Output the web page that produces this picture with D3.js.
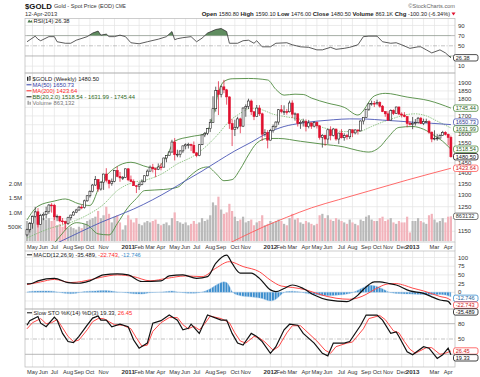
<!DOCTYPE html>
<html>
<head>
<meta charset="utf-8">
<script src="https://cdn.jsdelivr.net/npm/d3@7"></script>
<style>
  body { margin: 0; background: #fff; }
  svg { display: block; font-family: "Liberation Sans", Arial, sans-serif; }
</style>
</head>
<body>
<div id="chart"></div>
<script>
// weekly bars, 23-Apr-2010 .. 12-Apr-2013
const opens = [1136,1156,1180,1209,1228,1177,1213,1218,1229,1257,
  1256,1208,1210,1191,1188,1181,1204,1215,1227,1236,
  1248,1246,1275,1297,1317,1345,1370,1327,1358,1396,
  1367,1352,1362,1413,1385,1378,1380,1421,1369,1361,
  1342,1340,1348,1360,1388,1410,1429,1421,1419,1430,
  1429,1474,1486,1504,1556,1491,1493,1510,1536,1542,
  1543,1539,1500,1486,1542,1594,1602,1628,1663,1742,
  1852,1828,1876,1857,1813,1656,1624,1636,1683,1642,
  1746,1755,1788,1724,1696,1746,1712,1598,1606,1566,
  1617,1639,1665,1736,1725,1725,1724,1776,1710,1712,
  1657,1663,1669,1640,1660,1642,1663,1644,1581,1592,
  1572,1622,1591,1626,1572,1604,1579,1590,1584,1622,
  1605,1621,1616,1671,1692,1739,1771,1774,1772,1779,
  1757,1725,1712,1676,1731,1714,1752,1711,1705,1696,
  1657,1656,1657,1662,1687,1657,1667,1667,1609,1572,
  1576,1577,1592,1607,1597,1580.8];
const highs = [1160,1186,1212,1249,1232,1220,1226,1250,1261,1265,
  1262,1217,1212,1203,1192,1208,1216,1232,1241,1253,
  1258,1280,1300,1321,1350,1387,1372,1362,1398,1424,
  1370,1375,1414,1432,1406,1387,1422,1424,1389,1371,
  1344,1358,1371,1390,1418,1437,1445,1426,1447,1448,
  1476,1487,1510,1568,1577,1516,1513,1537,1549,1552,
  1547,1559,1504,1545,1595,1610,1632,1682,1817,1877,
  1912,1885,1921,1863,1816,1681,1678,1695,1690,1750,
  1768,1802,1797,1728,1764,1763,1719,1625,1620,1627,
  1651,1669,1740,1764,1762,1741,1790,1792,1720,1714,
  1675,1684,1680,1677,1662,1669,1668,1648,1598,1595,
  1629,1641,1632,1628,1605,1625,1603,1599,1625,1623,
  1625,1623,1675,1692,1740,1777,1790,1788,1796,1786,
  1764,1728,1727,1738,1738,1754,1755,1721,1722,1698,
  1669,1694,1682,1694,1694,1684,1684,1675,1612,1619,
  1598,1597,1616,1614,1601,1590.1];
const lows = [1130,1145,1160,1205,1165,1176,1194,1201,1220,1225,
  1195,1190,1185,1177,1157,1175,1193,1213,1223,1233,
  1239,1242,1271,1289,1312,1341,1315,1320,1323,1357,
  1330,1342,1358,1381,1360,1368,1377,1363,1359,1343,
  1309,1323,1344,1358,1385,1408,1404,1381,1415,1414,
  1429,1453,1486,1502,1462,1478,1477,1500,1518,1522,
  1509,1497,1478,1483,1540,1582,1593,1610,1660,1725,
  1705,1810,1836,1766,1627,1535,1588,1625,1603,1637,
  1695,1740,1705,1676,1694,1700,1562,1585,1523,1564,
  1606,1628,1650,1715,1705,1707,1720,1688,1673,1640,
  1627,1640,1613,1630,1627,1635,1629,1569,1527,1536,
  1546,1565,1586,1563,1546,1575,1563,1569,1572,1582,
  1597,1596,1613,1652,1689,1729,1760,1752,1763,1748,
  1722,1695,1673,1675,1705,1711,1705,1691,1692,1636,
  1646,1625,1645,1655,1654,1648,1660,1600,1555,1565,
  1563,1575,1590,1591,1539,1476];
const closes = [1156,1180,1209,1228,1177,1213,1218,1229,1257,1256,
  1208,1210,1191,1188,1181,1204,1215,1227,1236,1248,
  1246,1275,1297,1317,1345,1370,1327,1358,1396,1367,
  1352,1362,1413,1385,1378,1380,1421,1369,1361,1342,
  1340,1348,1360,1388,1410,1429,1421,1419,1430,1429,
  1474,1486,1504,1556,1491,1493,1510,1536,1542,1543,
  1539,1500,1486,1542,1594,1602,1628,1663,1742,1852,
  1828,1876,1857,1813,1656,1624,1636,1683,1642,1746,
  1755,1788,1724,1696,1746,1712,1598,1606,1566,1617,
  1639,1665,1736,1725,1725,1724,1776,1710,1712,1657,
  1663,1669,1640,1660,1642,1663,1644,1581,1592,1572,
  1622,1591,1626,1572,1604,1579,1590,1584,1622,1605,
  1621,1616,1671,1692,1739,1771,1774,1772,1779,1757,
  1725,1712,1676,1731,1714,1752,1711,1705,1696,1657,
  1656,1657,1662,1687,1657,1667,1667,1609,1572,1576,
  1577,1592,1607,1597,1580.8,1480.5];
// volume in thousands
const volumes = [700,650,900,1050,1150,850,800,750,800,700,
  900,550,600,500,550,450,500,450,400,500,
  450,600,700,750,800,850,1050,800,900,1200,
  950,650,850,900,650,400,550,900,750,650,
  800,600,550,650,700,650,700,750,600,550,
  600,650,550,800,1000,700,650,600,650,550,
  600,700,600,650,800,700,750,900,1350,1250,
  1550,1100,950,1000,1300,1050,850,700,750,850,
  650,700,750,550,650,700,900,550,600,700,
  650,700,750,700,600,550,800,950,750,800,
  650,600,700,650,600,550,600,900,950,800,
  900,750,700,800,750,700,650,600,750,650,
  600,550,750,700,850,900,750,700,700,800,
  850,700,750,800,650,600,700,650,650,850,
  300,700,700,800,700,650,600,900,950,750,
  650,700,800,650,850,863.132];

// overlays and indicators: [week index, value]
const ma50 = [[8,1090],[12,1110],[20,1150],[27,1185],[33,1212],[39,1240],[46,1280],[52,1320],[58,1365],
  [64,1410],[70,1460],[76,1510],[82,1555],[88,1605],[94,1640],[100,1658],[106,1670],[112,1678],
  [118,1683],[124,1682],[130,1676],[136,1670],[142,1663],[148,1658],[155,1650.73]];
const ma200 = [[70,1090],[74,1105],[78,1125],[86,1165],[95,1206],[104,1245],[114,1280],[125,1318],
  [139,1368],[155,1423.64]];
const bbUpper = [[0,1195],[4,1252],[10,1274],[14,1283],[19,1262],[23,1255],[27,1354],[32,1424],[38,1453],
  [44,1430],[47,1424],[51,1480],[54,1561],[60,1585],[65,1600],[68,1700],[70,1840],[72,1910],[75,1928],
  [81,1930],[88,1920],[91,1860],[94,1824],[98,1830],[101,1828],[104,1806],[110,1775],[116,1750],
  [121,1705],[127,1819],[131,1835],[139,1812],[147,1790],[155,1745.44]];
const bbMiddle = [[0,1124],[8,1160],[16,1185],[22,1215],[28,1260],[33,1320],[38,1354],[44,1370],[49,1395],
  [55,1445],[61,1485],[66,1540],[70,1600],[74,1670],[78,1715],[82,1745],[86,1735],[90,1710],[94,1697],
  [100,1680],[107,1640],[112,1620],[116,1612],[121,1612],[126,1640],[130,1665],[134,1686],[138,1705],
  [142,1712],[146,1700],[150,1670],[155,1631.99]];
const bbLower = [[0,1060],[8,1085],[12,1130],[15,1166],[18,1184],[22,1175],[26,1140],[30,1136],[33,1180],
  [37,1248],[40,1285],[43,1320],[50,1325],[55,1335],[59,1380],[63,1420],[66,1430],[69,1400],[72,1365],
  [75,1370],[78,1420],[81,1490],[84,1550],[88,1575],[92,1575],[100,1560],[108,1545],[116,1530],
  [121,1512],[125,1504],[129,1530],[132,1580],[136,1635],[141,1640],[145,1625],[149,1590],[152,1560],
  [155,1518.54]];
const rsi = [[0,58],[3,69],[4,63],[5,60],[8,68],[10,68],[11,58],[14,55],[16,55],[18,61],[22,68],[24,75],
  [26,79],[27,71],[29,73],[30,68],[32,68],[34,71],[36,68],[38,56],[41,54],[44,58],[48,63],[51,68],
  [53,78],[54,62],[55,64],[57,66],[60,68],[62,58],[64,65],[66,75],[69,82],[71,84],[73,78],[74,55],
  [77,55],[79,60],[81,61],[83,55],[84,60],[86,48],[89,48],[91,55],[95,56],[97,52],[100,48],[103,47],
  [106,42],[108,42],[111,47],[113,43],[116,45],[118,47],[121,52],[123,68],[125,69],[128,69],[130,58],
  [133,55],[135,56],[137,52],[140,45],[143,48],[144,48],[146,42],[148,36],[151,42],[153,36],[155,26.38]];
const macd = [[0,24],[2,26],[4,33],[10,40],[15,28],[19,26],[23,33],[28,50],[33,53],[37,50],[42,31],[49,33],
  [52,47],[57,50],[62,40],[66,45],[69,83],[73,107],[75,83],[78,55],[82,55],[85,40],[89,7],[91,2],[94,11],
  [97,21],[101,11],[105,-8],[110,-22],[117,-27],[119,-20],[121,-8],[123,8],[125,22],[127,30],[129,30],
  [132,26],[135,21],[140,4],[145,-3],[148,-13],[151,-22],[154,-26],[155,-35.489]];
const macdSignal = [[0,22],[5,30],[10,37],[16,28],[20,31],[27,43],[33,50],[39,45],[45,33],[51,40],[58,47],
  [64,45],[69,69],[74,88],[79,74],[85,59],[89,35],[93,18],[97,14],[102,7],[107,-6],[113,-17],[118,-20],
  [121,-16],[124,-6],[126,3],[129,16],[132,24],[135,25],[138,20],[141,12],[145,4],[148,-4],[151,-12],
  [154,-18],[155,-22.743]];
const macdHist = [[0,1],[2,3],[5,4],[8,4],[11,1],[13,-2],[16,-4],[19,-1],[21,2],[25,4],[29,5],[33,1],[36,-1],
  [39,-4],[42,-5],[45,-1],[48,0],[51,2],[53,4],[55,1],[57,-1],[60,-3],[63,-1],[65,3],[67,10],[69,20],
  [71,28],[72,30],[73,28],[74,18],[75,2],[77,-8],[80,-12],[83,-14],[86,-18],[89,-25],[91,-20],[93,-6],
  [95,2],[97,3],[100,1],[102,-3],[106,-7],[110,-10],[114,-8],[117,-5],[119,-1],[121,6],[123,14],[125,20],
  [127,19],[129,14],[131,6],[133,-1],[137,-4],[140,-5],[144,-6],[148,-7],[151,-6],[153,-8],[155,-12.746]];
const stoK = [[0,77],[1,86],[4,94],[5,81],[7,74],[10,93],[11,87],[13,61],[15,45],[17,43],[19,55],[22,77],
  [24,91],[26,95],[27,87],[29,87],[31,74],[34,79],[37,74],[39,48],[41,32],[44,42],[46,81],[49,86],[52,97],
  [55,87],[57,68],[59,71],[60,79],[63,61],[66,97],[71,87],[73,87],[75,61],[77,42],[79,38],[82,61],[84,55],
  [86,45],[89,22],[91,35],[94,68],[96,79],[99,77],[101,61],[105,42],[108,22],[110,17],[112,42],[116,42],
  [118,45],[122,77],[124,97],[128,97],[130,87],[133,61],[135,64],[136,55],[139,25],[141,19],[145,35],
  [147,32],[150,12],[152,19],[154,32],[155,19.33]];
const stoD = [[0,70],[2,82],[5,90],[7,80],[9,82],[11,88],[13,72],[15,55],[17,45],[19,48],[22,68],[24,84],
  [26,90],[28,90],[30,84],[32,78],[35,77],[38,70],[40,52],[42,36],[44,38],[46,65],[49,82],[52,92],[55,92],
  [57,78],[59,70],[61,75],[63,68],[65,80],[67,95],[71,90],[74,82],[76,62],[78,46],[80,42],[83,55],[85,52],
  [87,44],[90,28],[92,35],[95,62],[97,76],[100,76],[102,66],[106,46],[109,28],[111,22],[113,35],[117,42],
  [119,44],[123,70],[125,90],[129,96],[131,88],[134,66],[136,62],[138,45],[140,30],[142,22],[146,33],
  [148,33],[151,20],[153,22],[155,26.45]];

const monthLabels = ["May","Jun","Jul","Aug","Sep","Oct","Nov","",
  "2011","Feb","Mar","Apr","May","Jun","Jul","Aug","Sep","Oct","Nov","",
  "2012","Feb","Mar","Apr","May","Jun","Jul","Aug","Sep","Oct","Nov","Dec",
  "2013","","Mar","Apr"];
const priceTicks = d3.range(1150, 1901, 50);
// tick labels that the value boxes hide in the original
const priceTickLabels = [1150, 1250, 1300, 1350, 1400, 1450, 1550, 1600, 1700, 1800, 1850, 1900];
const rsiTickLabels = [90, 70, 50, 10];
const macdTickLabels = [100, 75, 50, 25, 0];
const stoTickLabels = [80, 50];
const volTicks = [500, 1000, 1500, 2000];
const volTickLabels = ["500K", "1.0M", "1.5M", "2.0M"];

const W = 480, H = 377;
const left = 25, right = 455;
const svg = d3.select("#chart").append("svg").attr("width", W).attr("height", H);
const defs = svg.append("defs");

const dates = d3.timeFriday.range(new Date(2010, 3, 23), new Date(2013, 3, 13));
const x = d3.scaleTime().domain([dates[0], dates[dates.length - 1]]).range([27, 450.9]);
const xi = i => x(dates[i]);

const yRsi = d3.scaleLinear().domain([0, 100]).range([71.2, 20.4]);
const yPrice = d3.scaleLog().domain([1109, 1966]).range([242, 73]);
const yVol = d3.scaleLinear().domain([0, 2000]).range([241, 183.8]);
const yMacd = d3.scaleLinear().domain([0, 100]).range([292.3, 257.5]);
const ySto = d3.scaleLinear().domain([0, 100]).range([364.5, 313.5]);

const panels = {
  rsi: {top: 18.5, bottom: 73},
  price: {top: 73, bottom: 242},
  macd: {top: 251, bottom: 309},
  sto: {top: 309, bottom: 367}
};
Object.entries(panels).forEach(([k, p]) => {
  defs.append("clipPath").attr("id", "clip-" + k)
    .append("rect").attr("x", left).attr("y", p.top).attr("width", right - left).attr("height", p.bottom - p.top);
});

// month ticks = first bar of each month
const monthIdx = [];
dates.forEach((d, i) => { if (i > 0 && d.getMonth() !== dates[i - 1].getMonth()) monthIdx.push(i); });

const grid = svg.append("g");
Object.values(panels).forEach(p => {
  grid.selectAll(null).data(monthIdx).enter().append("line")
    .attr("x1", i => xi(i)).attr("x2", i => xi(i))
    .attr("y1", p.top).attr("y2", p.bottom)
    .attr("stroke", "#e4e4e4").attr("stroke-width", 0.7);
});
function hGrid(values, scale, color, dash) {
  grid.selectAll(null).data(values).enter().append("line")
    .attr("x1", left).attr("x2", right)
    .attr("y1", v => scale(v)).attr("y2", v => scale(v))
    .attr("stroke", color || "#e4e4e4").attr("stroke-width", 0.7)
    .attr("stroke-dasharray", dash || null);
}
hGrid([90, 10], yRsi);
hGrid([70, 30], yRsi, "#999");
hGrid([50], yRsi, "#aaa", "4,1.5,1,1.5");
hGrid(priceTicks, yPrice);
hGrid([100, 75, 50, 25, 0, -25], yMacd);
hGrid([80, 20], ySto, "#999");
hGrid([50], ySto, "#aaa", "4,1.5,1,1.5");

// panel frames
Object.values(panels).forEach(p => {
  svg.append("rect").attr("x", left).attr("y", p.top).attr("width", right - left).attr("height", p.bottom - p.top)
    .attr("fill", "none").attr("stroke", "#b8b8b8").attr("stroke-width", 0.7);
});
svg.append("line").attr("x1", left).attr("x2", left).attr("y1", 242).attr("y2", 251).attr("stroke", "#b8b8b8").attr("stroke-width", 0.7);
svg.append("line").attr("x1", right).attr("x2", right).attr("y1", 242).attr("y2", 251).attr("stroke", "#b8b8b8").attr("stroke-width", 0.7);

const smooth = (scale) => d3.line().x(d => xi(d[0])).y(d => scale(d[1])).curve(d3.curveMonotoneX);
const jag = (scale) => d3.line().x(d => xi(d[0])).y(d => scale(d[1])).curve(d3.curveLinear);

// ---------- RSI ----------
const rsiG = svg.append("g").attr("clip-path", "url(#clip-rsi)");
defs.append("clipPath").attr("id", "rsiHi").append("rect").attr("x", left).attr("y", 0).attr("width", right - left).attr("height", yRsi(70));
defs.append("clipPath").attr("id", "rsiLo").append("rect").attr("x", left).attr("y", yRsi(30)).attr("width", right - left).attr("height", 50);
rsiG.append("path").datum(rsi).attr("clip-path", "url(#rsiHi)")
  .attr("d", d3.area().x(d => xi(d[0])).y0(yRsi(70)).y1(d => yRsi(d[1])))
  .attr("fill", "#5f8c5f");
rsiG.append("path").datum(rsi).attr("clip-path", "url(#rsiLo)")
  .attr("d", d3.area().x(d => xi(d[0])).y0(yRsi(30)).y1(d => yRsi(d[1])))
  .attr("fill", "#5f8c5f");
rsiG.append("path").datum(rsi).attr("d", jag(yRsi)).attr("fill", "none").attr("stroke", "#333").attr("stroke-width", 0.8);

// ---------- price panel ----------
const pg = svg.append("g").attr("clip-path", "url(#clip-price)");
const upWeek = i => closes[i] >= (i > 0 ? closes[i - 1] : opens[i]);
pg.selectAll(".vol").data(volumes).enter().append("rect")
  .attr("x", (v, i) => xi(i) - 1.1).attr("width", 2.2)
  .attr("y", v => yVol(v)).attr("height", v => yVol(0) - yVol(v))
  .attr("fill", (v, i) => upWeek(i) ? "#b9b9b9" : "#f2b3bb");

pg.append("path").datum(bbMiddle).attr("d", smooth(yPrice)).attr("fill", "none")
  .attr("stroke", "#79b86c").attr("stroke-width", 0.8).attr("stroke-dasharray", "1.5,1");
[bbUpper, bbLower].forEach(s => pg.append("path").datum(s).attr("d", smooth(yPrice))
  .attr("fill", "none").attr("stroke", "#4e8a3e").attr("stroke-width", 0.9));
pg.append("path").datum(ma50).attr("d", smooth(yPrice)).attr("fill", "none").attr("stroke", "#4b57b5").attr("stroke-width", 0.9);
pg.append("path").datum(ma200).attr("d", smooth(yPrice)).attr("fill", "none").attr("stroke", "#ff5a5a").attr("stroke-width", 0.9);

const candle = pg.selectAll(".c").data(closes).enter().append("g");
candle.append("line")
  .attr("x1", (c, i) => xi(i)).attr("x2", (c, i) => xi(i))
  .attr("y1", (c, i) => yPrice(highs[i])).attr("y2", (c, i) => yPrice(lows[i]))
  .attr("stroke", (c, i) => upWeek(i) ? "#222" : "#e0102e").attr("stroke-width", 0.7);
candle.append("rect")
  .attr("x", (c, i) => xi(i) - 1).attr("width", 2)
  .attr("y", (c, i) => yPrice(Math.max(c, opens[i])))
  .attr("height", (c, i) => Math.max(0.8, yPrice(Math.min(c, opens[i])) - yPrice(Math.max(c, opens[i]))))
  .attr("fill", (c, i) => c < opens[i] ? (upWeek(i) ? "#222" : "#e0102e") : "#fff")
  .attr("stroke", (c, i) => upWeek(i) ? "#222" : "#e0102e").attr("stroke-width", 0.6);

// ---------- MACD ----------
const mg = svg.append("g").attr("clip-path", "url(#clip-macd)");
const pat = defs.append("pattern").attr("id", "histPat").attr("patternUnits", "userSpaceOnUse")
  .attr("x", xi(0) - 1.1).attr("y", 0).attr("width", xi(1) - xi(0)).attr("height", 400);
pat.append("rect").attr("width", 2.1).attr("height", 400).attr("fill", "#3b8dcd");
mg.append("path").datum(macdHist)
  .attr("d", d3.area().x(d => xi(d[0])).y0(yMacd(0)).y1(d => yMacd(d[1])).curve(d3.curveMonotoneX))
  .attr("fill", "url(#histPat)").attr("stroke", "#9cc6e8").attr("stroke-width", 0.4);
mg.append("path").datum(macdSignal).attr("d", smooth(yMacd)).attr("fill", "none").attr("stroke", "#ff4a4a").attr("stroke-width", 1);
mg.append("path").datum(macd).attr("d", smooth(yMacd)).attr("fill", "none").attr("stroke", "#111").attr("stroke-width", 1.2);

// ---------- Slow STO ----------
const sg = svg.append("g").attr("clip-path", "url(#clip-sto)");
sg.append("path").datum(stoD).attr("d", jag(ySto)).attr("fill", "none").attr("stroke", "#ff4a4a").attr("stroke-width", 1);
sg.append("path").datum(stoK).attr("d", jag(ySto)).attr("fill", "none").attr("stroke", "#111").attr("stroke-width", 1.2);

// ---------- axes text ----------
const fs = 6;
function rightLabels(values, scale) {
  svg.selectAll(null).data(values).enter().append("text")
    .attr("x", 458).attr("y", v => scale(v) + 2.1)
    .attr("font-size", fs).attr("fill", "#333").text(v => v);
}
rightLabels(rsiTickLabels, yRsi);
rightLabels(priceTickLabels, yPrice);
rightLabels(macdTickLabels, yMacd);
rightLabels(stoTickLabels, ySto);
svg.selectAll(null).data(volTicks).enter().append("text")
  .attr("x", 22).attr("y", v => yVol(v) + 2.1).attr("text-anchor", "end")
  .attr("font-size", fs).attr("fill", "#333").text((v, i) => volTickLabels[i]);

function monthAxis(yBase) {
  svg.selectAll(null).data(monthIdx).enter().append("text")
    .attr("x", i => xi(i)).attr("y", yBase).attr("text-anchor", "middle")
    .attr("font-size", (i, k) => /^\d/.test(monthLabels[k]) ? 6.2 : 5.7)
    .attr("font-weight", (i, k) => /^\d/.test(monthLabels[k]) ? "bold" : "normal")
    .attr("fill", "#333").text((i, k) => monthLabels[k]);
}
monthAxis(248.6);
monthAxis(373.6);

// value boxes on the right, nudged apart where they would collide
function valueBoxes(items) {
  const bh = 6.4, gap = 6.8;
  items.sort((a, b) => a.y - b.y);
  for (let k = 1; k < items.length; k++) {
    if (items[k].y - items[k - 1].y < gap) items[k].y = items[k - 1].y + gap;
  }
  items.forEach(it => {
    const g = svg.append("g").attr("transform", `translate(453.5,${it.y})`);
    g.append("rect").attr("x", 0).attr("y", -bh / 2).attr("width", 24.5).attr("height", bh).attr("rx", 2)
      .attr("fill", "#fff").attr("stroke", it.stroke).attr("stroke-width", 0.8);
    g.append("text").attr("x", 2.2).attr("y", 2).attr("font-size", 5.6).attr("fill", it.color).text(it.label);
  });
}
valueBoxes([{y: yRsi(26.38), label: "26.38", stroke: "#222", color: "#222"}]);
valueBoxes([
  {y: yPrice(1745.44), label: "1745.44", stroke: "#4e8a3e", color: "#2f5f25"},
  {y: yPrice(1650.73) - 2.5, label: "1650.73", stroke: "#4b57b5", color: "#2b3790"},
  {y: yPrice(1631.99), label: "1631.99", stroke: "#4e8a3e", color: "#2f5f25"},
  {y: yPrice(1518.54), label: "1518.54", stroke: "#4e8a3e", color: "#2f5f25"},
  {y: yPrice(1480.5), label: "1480.50", stroke: "#111", color: "#111"},
  {y: yPrice(1423.64), label: "1423.64", stroke: "#ff5a5a", color: "#d02020"}
]);
valueBoxes([{y: yVol(863.132), label: "863132", stroke: "#555", color: "#333"}]);
valueBoxes([
  {y: yMacd(-12.746) + 1.6, label: "-12.746", stroke: "#3b8dcd", color: "#1f5f99"},
  {y: yMacd(-22.743), label: "-22.743", stroke: "#ff4a4a", color: "#d02020"},
  {y: yMacd(-35.489), label: "-35.489", stroke: "#111", color: "#111"}
]);
valueBoxes([
  {y: ySto(26.45), label: "26.45", stroke: "#ff4a4a", color: "#d02020"},
  {y: ySto(19.33), label: "19.33", stroke: "#111", color: "#111"}
]);

// ---------- header ----------
svg.append("text").attr("x", 25).attr("y", 8.6).attr("font-size", 7.8).attr("font-weight", "bold").attr("fill", "#111").text("$GOLD");
svg.append("text").attr("x", 54).attr("y", 8.4).attr("font-size", 5.6).attr("fill", "#333")
  .text("Gold - Spot Price (EOD) ").append("tspan").attr("font-size", 4.6).text("CME");
svg.append("text").attr("x", 25).attr("y", 15.6).attr("font-size", 5.8).attr("fill", "#333").text("12-Apr-2013");
svg.append("text").attr("x", 455).attr("y", 7.6).attr("text-anchor", "end").attr("font-size", 5.6).attr("fill", "#666").text("©StockCharts.com");
const ohlc = [["Open ", 1], ["1580.80 ", 0], ["High ", 1], ["1590.10 ", 0], ["Low ", 1], ["1476.00 ", 0],
  ["Close ", 1], ["1480.50 ", 0], ["Volume ", 1], ["863.1K ", 0], ["Chg ", 1], ["-100.30 (-6.34%)", 0]];
const ot = svg.append("text").attr("x", 450).attr("y", 15.6).attr("text-anchor", "end").attr("font-size", 5.8).attr("fill", "#222");
ohlc.forEach(([t, b]) => ot.append("tspan").attr("font-weight", b ? "bold" : "normal").attr("font-size", b ? 6 : 5.6).text(t));
svg.append("path").attr("d", "M451.5,12.6 L455.5,12.6 L453.5,15.4 Z").attr("fill", "#e0102e");

// RSI legend
svg.append("path").attr("d", "M27.5,22.5 L29,19.6 L30.5,21.3 L31.5,20 L32.5,22.5 Z").attr("fill", "#4e7a4e");
svg.append("text").attr("x", 33.5).attr("y", 22.6).attr("font-size", 5.8).attr("fill", "#222").text("RSI(14) 26.38");

// price legend
const lg = [
  ["$GOLD (Weekly) 1480.50", "#222"],
  ["MA(50) 1650.73", "#3440a8"],
  ["MA(200) 1423.64", "#ff2a2a"],
  ["BB(20,2.0) 1518.54 - 1631.99 - 1745.44", "#2f6a23"],
  ["Volume 863,132", "#777"]
];
lg.forEach(([t, c], k) => {
  const yy = 80.8 + k * 6;
  if (k === 0) {
    svg.append("rect").attr("x", 27).attr("y", yy - 4).attr("width", 1.4).attr("height", 4).attr("fill", "#222");
    svg.append("rect").attr("x", 29.3).attr("y", yy - 4.5).attr("width", 1.4).attr("height", 4).attr("fill", "none").attr("stroke", "#222").attr("stroke-width", 0.5);
  } else if (k === 4) {
    svg.append("rect").attr("x", 27.5).attr("y", yy - 4).attr("width", 1.3).attr("height", 4).attr("fill", "#999");
    svg.append("rect").attr("x", 29.5).attr("y", yy - 3).attr("width", 1.3).attr("height", 3).attr("fill", "#999");
  } else {
    svg.append("line").attr("x1", 26.5).attr("x2", 31.5).attr("y1", yy - 2).attr("y2", yy - 2).attr("stroke", k === 3 ? "#111" : c).attr("stroke-width", 1);
  }
  svg.append("text").attr("x", 32.5).attr("y", yy).attr("font-size", 5.8).attr("fill", c).text(t);
});

// MACD legend
svg.append("line").attr("x1", 27).attr("x2", 32).attr("y1", 254.8).attr("y2", 254.8).attr("stroke", "#111").attr("stroke-width", 1);
const mt = svg.append("text").attr("x", 33.5).attr("y", 256.8).attr("font-size", 5.8).attr("fill", "#222");
mt.append("tspan").text("MACD(12,26,9) -35.489, ");
mt.append("tspan").attr("fill", "#ff2a2a").text("-22.743");
mt.append("tspan").text(", ");
mt.append("tspan").attr("fill", "#3b8dcd").text("-12.746");

// STO legend
svg.append("line").attr("x1", 27).attr("x2", 32).attr("y1", 312.8).attr("y2", 312.8).attr("stroke", "#111").attr("stroke-width", 1);
const st = svg.append("text").attr("x", 33.5).attr("y", 314.8).attr("font-size", 5.8).attr("fill", "#222");
st.append("tspan").text("Slow STO %K(14) %D(3) 19.33, ");
st.append("tspan").attr("fill", "#ff2a2a").text("26.45");
</script>
</body>
</html>
